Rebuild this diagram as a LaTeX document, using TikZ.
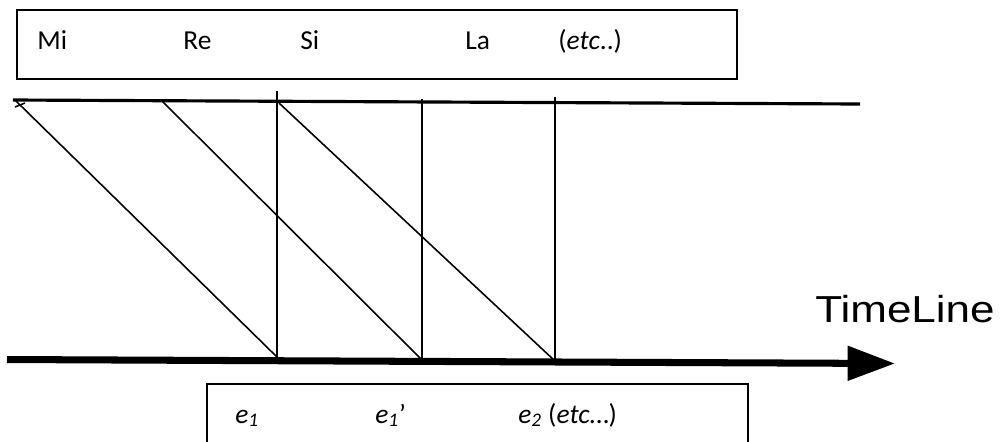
\documentclass[tikz,border=0pt]{standalone}
\usepackage{fontspec}
\setmainfont{Carlito}
\newfontfamily\arialfont{Liberation Sans}
\usetikzlibrary{arrows.meta}
\begin{document}
\begin{tikzpicture}[x=0.02cm,y=-0.02cm,
  thinline/.style={line width=0.9pt},
  lbl/.style={anchor=base west,inner sep=0pt,font=\fontsize{15.6}{18}\selectfont},
  boxline/.style={line width=0.75pt}]
\useasboundingbox (0,0) rectangle (1006,441);
% top box
\draw[boxline] (17,10) rectangle (737,79);
\node[lbl] (mi) at (37,49) {Mi};
\node[lbl] (re) at (183,49) {Re};
\node[lbl] (si) at (300,49) {Si};
\node[lbl] (la) at (465,49) {La};
\node[lbl] (etc) at (558,49) {(\textit{etc}..)};
% top line
\coordinate (tl) at (13,100);
\coordinate (tr) at (860,104);
\draw[line width=1.8pt] (tl) -- (tr);
% vertical lines
\coordinate (v1t) at (277,91);
\coordinate (v1b) at (277,357);
\coordinate (v2t) at (422,99);
\coordinate (v2b) at (422,360);
\coordinate (v3t) at (555,97);
\coordinate (v3b) at (555,361);
\draw[thinline] (v1t) -- (v1b);
\draw[thinline] (v2t) -- (v2b);
\draw[thinline] (v3t) -- (v3b);
% diagonals
\coordinate (d1t) at (15,100);
\coordinate (d2t) at (162,101);
\coordinate (d3t) at (279,103);
\draw[thinline] (d1t) -- (v1b);
\draw[thinline] (d2t) -- (v2b);
\draw[thinline] (d3t) -- (v3b);
% small tick
\coordinate (k1) at (15,107);
\coordinate (k2) at (25,103);
\draw[thinline] (k1) -- (k2);
% timeline arrow
\coordinate (al) at (7,359.5);
\coordinate (ar) at (895,363.5);
\draw[line width=4pt,-{Triangle[length=27pt,width=19pt]}] (al) -- (ar);
\node[anchor=base west,inner sep=0pt,font=\arialfont\fontsize{21.4}{24}\selectfont] (tline) at (815,322) {\scalebox{1.17}[1]{TimeLine}};
% bottom box
\draw[boxline] (207,445) -- (207,384) -- (748,384) -- (748,445);
\node[lbl] (e1) at (235,423) {\textit{e\textsubscript{1}}};
\node[lbl] (e1p) at (375,423) {\textit{e\textsubscript{1}}’};
\node[lbl] (e2) at (518,423) {\textit{e\textsubscript{2}} (\textit{etc}…)};
\end{tikzpicture}
\end{document}
